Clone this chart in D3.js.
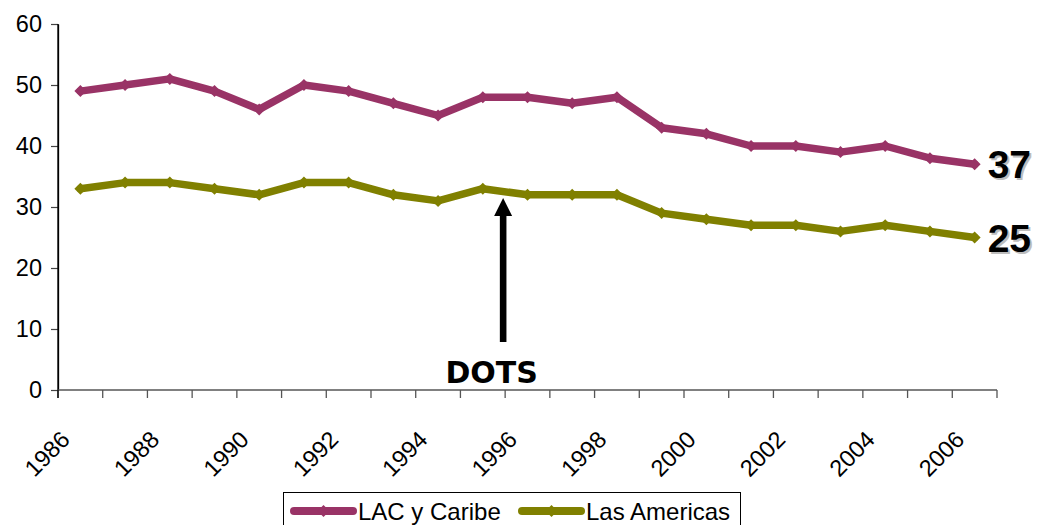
<!DOCTYPE html>
<html>
<head>
<meta charset="utf-8">
<script src="https://cdn.jsdelivr.net/npm/d3@7"></script>
<style>
  html, body { margin: 0; padding: 0; background: #fff; }
  svg { display: block; font-family: "Liberation Sans", Arial, sans-serif; }
</style>
</head>
<body>
<svg id="chart" width="1040" height="525"></svg>
<script>
const years = ["1986","1987","1988","1989","1990","1991","1992","1993","1994","1995","1996",
               "1997","1998","1999","2000","2001","2002","2003","2004","2005","2006"];
const lacCaribe   = [49,50,51,49,46,50,49,47,45,48,48,47,48,43,42,40,40,39,40,38,37];
const lasAmericas = [33,34,34,33,32,34,34,32,31,33,32,32,32,29,28,27,27,26,27,26,25];
const seriesNames  = ["LAC y Caribe", "Las Americas"];
const seriesColors = ["#993366", "#808000"];
const yTicks = [0,10,20,30,40,50,60];
const xTickLabels = ["1986","1988","1990","1992","1994","1996","1998","2000","2002","2004","2006"];
const annotationYear = "1996";
const annotationText = "DOTS";

(function () {
const series = [
  { name: seriesNames[0], color: seriesColors[0], values: lacCaribe },
  { name: seriesNames[1], color: seriesColors[1], values: lasAmericas }
];

const svg = d3.select("#chart");
const mLeft = 58, mRight = 997, mTop = 24, mBottom = 390;

const x = d3.scaleBand().domain(years).range([mLeft, mRight]).padding(0);
const y = d3.scaleLinear().domain([0, 60]).range([mBottom, mTop]);
const cx = d => x(d) + x.bandwidth() / 2;

// Y axis
const yAxis = svg.append("g").attr("transform", `translate(${mLeft},0)`)
  .call(d3.axisLeft(y).tickValues(yTicks).tickSize(7).tickPadding(9).tickSizeOuter(0));
yAxis.select(".domain").attr("stroke", "#000").attr("stroke-width", 1.3);
yAxis.selectAll(".tick line").attr("stroke", "#444").attr("stroke-width", 1.2);
yAxis.selectAll(".tick text").attr("font-size", 23.5).attr("fill", "#000")
  .attr("font-family", "'Liberation Sans', Arial, sans-serif");

// X axis: ticks at category boundaries
const boundaries = years.map(d => x(d)).concat([mRight]);
svg.append("line").attr("x1", mLeft).attr("x2", mRight).attr("y1", mBottom).attr("y2", mBottom)
  .attr("stroke", "#808080").attr("stroke-width", 2);
svg.append("g").selectAll("line").data(boundaries).join("line")
  .attr("x1", d => d).attr("x2", d => d).attr("y1", mBottom).attr("y2", mBottom + 8)
  .attr("stroke", "#555").attr("stroke-width", 1.3);
svg.append("line").attr("x1", mLeft).attr("x2", mLeft).attr("y1", mTop).attr("y2", mBottom + 8)
  .attr("stroke", "#000").attr("stroke-width", 1.3);

svg.append("g").selectAll("text").data(xTickLabels).join("text")
  .attr("transform", d => `translate(${cx(d) - 9},${mBottom + 51}) rotate(-45)`)
  .attr("text-anchor", "end")
  .attr("font-size", 23.5)
  .attr("fill", "#000")
  .text(d => d);

// Lines
const line = d3.line().x((d, i) => cx(years[i])).y(d => y(d));
const diamond = s => `M0,${-s}L${s},0L0,${s}L${-s},0Z`;

series.forEach(s => {
  svg.append("path").datum(s.values)
    .attr("d", line)
    .attr("fill", "none")
    .attr("stroke", s.color)
    .attr("stroke-width", 7.5)
    .attr("stroke-linejoin", "round")
    .attr("stroke-linecap", "round");
  svg.append("g").selectAll("path").data(s.values).join("path")
    .attr("transform", (d, i) => `translate(${cx(years[i])},${y(d)})`)
    .attr("d", diamond(6))
    .attr("fill", s.color);
});

// End value labels with shadow
series.forEach(s => {
  const last = s.values[s.values.length - 1];
  const lx = cx(years[years.length - 1]) + 13;
  const ly = y(last) + 14;
  svg.append("text").attr("x", lx + 2).attr("y", ly + 2)
    .attr("font-size", 39).attr("font-weight", "bold").attr("fill", "#bdbdbd")
    .attr("font-family", "'Liberation Sans', Arial, sans-serif")
    .text(last);
  svg.append("text").attr("x", lx).attr("y", ly)
    .attr("font-size", 39).attr("font-weight", "bold").attr("fill", "#000")
    .attr("font-family", "'Liberation Sans', Arial, sans-serif")
    .text(last);
});

// Annotation arrow
const ax = x(annotationYear) - 2;
svg.append("rect").attr("x", ax - 3.3).attr("y", 214).attr("width", 6.6).attr("height", 342 - 214)
  .attr("fill", "#000");
svg.append("path").attr("d", `M${ax},198 L${ax + 9},216 L${ax - 9},216 Z`).attr("fill", "#000");
svg.append("text").attr("x", ax - 11.5).attr("y", 383).attr("text-anchor", "middle")
  .attr("font-family", "'DejaVu Sans', Verdana, sans-serif")
  .attr("font-weight", "bold").attr("font-size", 30).attr("fill", "#000")
  .text(annotationText);

// Legend
const legend = svg.append("g");
legend.append("rect").attr("x", 283.5).attr("y", 492.5).attr("width", 457).attr("height", 40)
  .attr("fill", "#fff").attr("stroke", "#000").attr("stroke-width", 1);
const legendX = [294, 522];
series.forEach((s, i) => {
  const g = legend.append("g").attr("transform", `translate(${legendX[i]},511)`);
  g.append("line").attr("x1", 0).attr("x2", 59).attr("y1", 0).attr("y2", 0)
    .attr("stroke", s.color).attr("stroke-width", 8).attr("stroke-linecap", "round");
  g.append("path").attr("transform", "translate(29.5,0)").attr("d", diamond(6)).attr("fill", s.color);
  g.append("text").attr("x", 64).attr("y", 8.5).attr("font-size", 24).attr("fill", "#000")
    .text(s.name);
});
})();
</script>
</body>
</html>
